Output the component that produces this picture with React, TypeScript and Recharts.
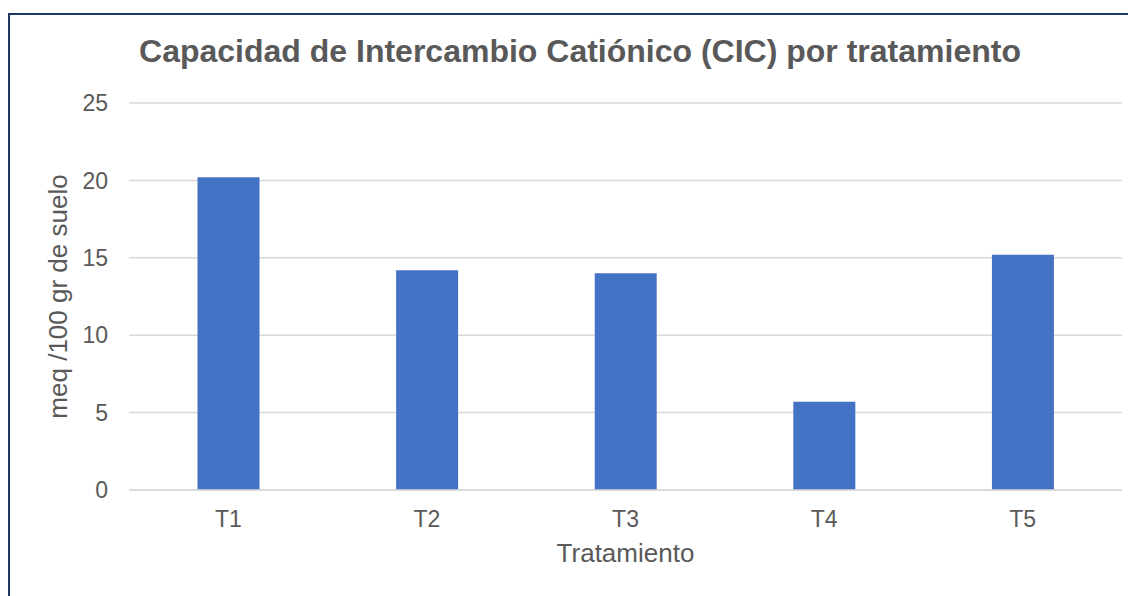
import { Bar, BarChart, CartesianGrid, Label, XAxis, YAxis } from "recharts";

const treatments = ["T1", "T2", "T3", "T4", "T5"];
const cicValues = [20.2, 14.2, 14.0, 5.7, 15.2];
const yTicks = [0, 5, 10, 15, 20, 25];

const chartData = treatments.map((name, i) => ({ name, cic: cicValues[i] }));

const textColor = "#595959";
const font = "'Liberation Sans', Arial, sans-serif";

export default function App() {
  return (
    <div
      style={{
        position: "relative",
        marginTop: 5,
        width: 1126,
        height: 581,
        borderLeft: "2px solid #1f3864",
        borderTop: "2px solid #1f3864",
        fontFamily: font,
        background: "#fff",
      }}
    >
      <div
        style={{
          position: "absolute",
          left: 0,
          width: 1140,
          top: 18,
          textAlign: "center",
          fontSize: 32,
          fontWeight: "bold",
          color: textColor,
        }}
      >
        Capacidad de Intercambio Catiónico (CIC) por tratamiento
      </div>
      <BarChart
        width={1126}
        height={581}
        data={chartData}
        margin={{ top: 88, right: 14, left: 0, bottom: 26 }}
        barCategoryGap="34.5%"
      >
        <CartesianGrid vertical={false} stroke="#d9d9d9" strokeWidth={1.5} />
        <XAxis
          dataKey="name"
          height={80}
          axisLine={{ stroke: "#d9d9d9", strokeWidth: 1.5 }}
          tickLine={false}
          tickSize={0}
          tickMargin={21}
          tick={{ fill: textColor, fontSize: 23, fontFamily: font }}
        >
          <Label
            value="Tratamiento"
            position="insideBottom"
            offset={8}
            style={{ fill: textColor, fontSize: 26, fontFamily: font }}
          />
        </XAxis>
        <YAxis
          width={119}
          domain={[0, 25]}
          ticks={yTicks}
          axisLine={false}
          tickLine={false}
          tickSize={0}
          tickMargin={21}
          tick={{ fill: textColor, fontSize: 23, fontFamily: font }}
        >
          <Label
            value="meq /100 gr de suelo"
            angle={-90}
            position="insideLeft"
            offset={48}
            style={{ fill: textColor, fontSize: 26, fontFamily: font, textAnchor: "middle" }}
          />
        </YAxis>
        <Bar dataKey="cic" fill="#4472c4" isAnimationActive={false} />
      </BarChart>
    </div>
  );
}
